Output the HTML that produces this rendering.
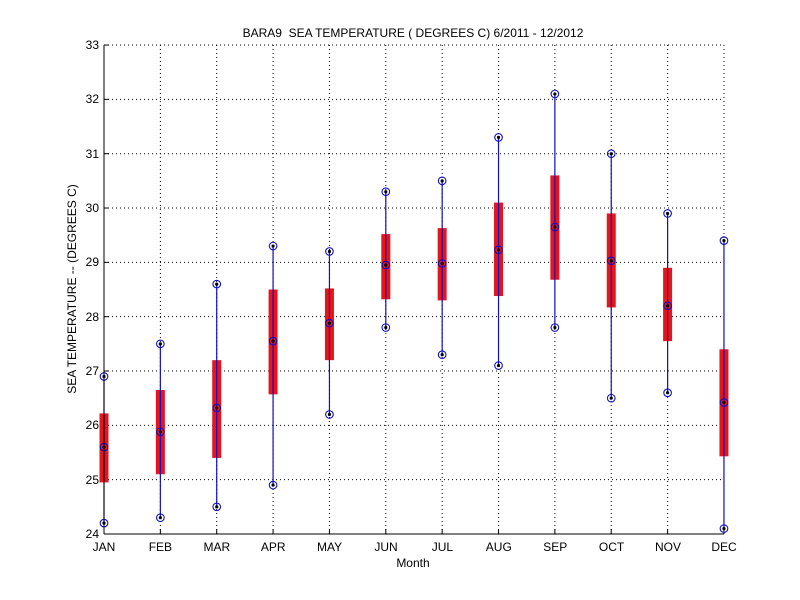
<!DOCTYPE html>
<html><head><style>body{margin:0;background:#fff}svg{display:block}text{font-family:"Liberation Sans",Arial,sans-serif;font-size:12px;fill:#000}</style></head>
<body>
<svg id="s" width="800" height="600" xmlns="http://www.w3.org/2000/svg">
<rect width="800" height="600" fill="#fff"/>
<g id="grid" stroke="#000" stroke-width="1" stroke-dasharray="1,3"></g>
<g id="data"></g>
<line x1="104" y1="45" x2="104" y2="534" stroke="#000"/>
<line x1="104" y1="534" x2="724" y2="534" stroke="#000"/>
<text x="413" y="37" text-anchor="middle">BARA9&#160; SEA TEMPERATURE ( DEGREES C) 6/2011 - 12/2012</text>
<g text-anchor="end">
<text x="99" y="538">24</text><text x="99" y="484">25</text><text x="99" y="429">26</text><text x="99" y="375">27</text><text x="99" y="321">28</text><text x="99" y="266">29</text><text x="99" y="212">30</text><text x="99" y="158">31</text><text x="99" y="103">32</text><text x="99" y="49">33</text>
</g>
<g text-anchor="middle">
<text x="104" y="551">JAN</text><text x="160.4" y="551">FEB</text><text x="216.8" y="551">MAR</text><text x="273.2" y="551">APR</text><text x="329.6" y="551">MAY</text><text x="386" y="551">JUN</text><text x="442.4" y="551">JUL</text><text x="498.8" y="551">AUG</text><text x="555.2" y="551">SEP</text><text x="611.6" y="551">OCT</text><text x="668" y="551">NOV</text><text x="724" y="551">DEC</text>
<text x="413" y="567" font-size="11">Month</text>
<text transform="translate(76,289) rotate(-90)">SEA TEMPERATURE -- (DEGREES C)</text>
</g>
</svg>
<script>
var N="http://www.w3.org/2000/svg";
function X(i){return 104+i*56.36;}
function Y(v){return 534-(v-24)*54.33;}
function el(p,t,a){var e=document.createElementNS(N,t);for(var k in a)e.setAttribute(k,a[k]);document.getElementById(p).appendChild(e);}
for(var i=1;i<12;i++){el("grid","line",{x1:X(i),y1:45,x2:X(i),y2:534});el("grid","line",{x1:X(i),y1:534,x2:X(i),y2:529,"stroke-dasharray":"none"});}
for(var v=25;v<=33;v++){el("grid","line",{x1:104,y1:Y(v),x2:724,y2:Y(v)});el("grid","line",{x1:104,y1:Y(v),x2:109,y2:Y(v),"stroke-dasharray":"none"});}
var d=[[24.2,26.9,24.95,26.22,25.6],[24.3,27.5,25.1,26.65,25.88],[24.5,28.6,25.4,27.2,26.32],[24.9,29.3,26.57,28.5,27.55],[26.2,29.2,27.2,28.52,27.88],[27.8,30.3,28.32,29.52,28.95],[27.3,30.5,28.3,29.63,28.98],[27.1,31.3,28.38,30.1,29.23],[27.8,32.1,28.68,30.6,29.65],[26.5,31.0,28.17,29.9,29.03],[26.6,29.9,27.55,28.9,28.2],[24.1,29.4,25.43,27.4,26.42]];
d.forEach(function(r,i){var x=X(i);
el("data","rect",{x:x-4.5,y:Y(r[3]),width:9,height:Y(r[2])-Y(r[3]),fill:"#e8141c"});
el("data","line",{x1:x,y1:Y(r[0]),x2:x,y2:Y(r[1]),stroke:"#1010c0","stroke-width":1.2});
[r[0],r[1],r[4]].forEach(function(v){el("data","circle",{cx:x,cy:Y(v),r:3.8,fill:"none",stroke:"#1010c0","stroke-width":1.1});el("data","circle",{cx:x,cy:Y(v),r:1.6,fill:"#000"});});
});
</script>
</body></html>
